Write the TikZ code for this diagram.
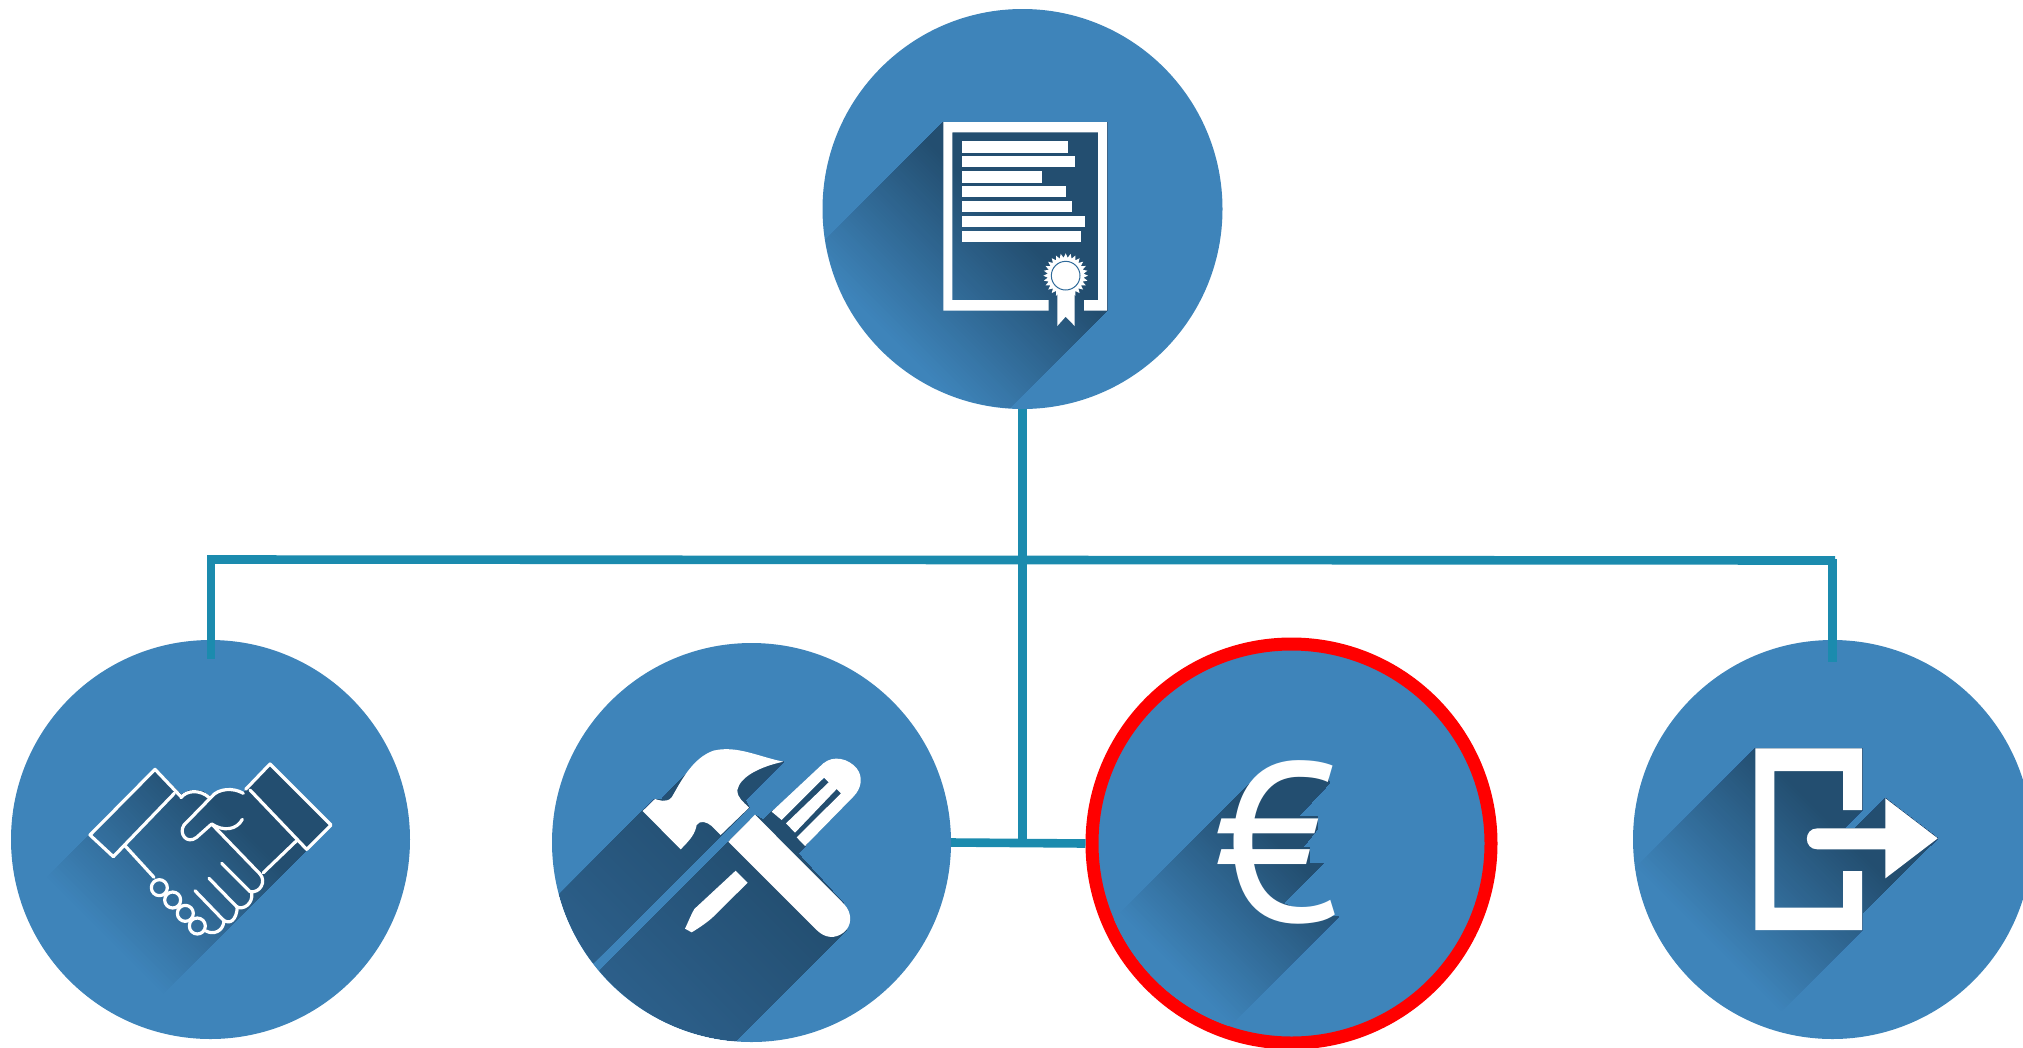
\documentclass[tikz,border=0pt]{standalone}
\usepackage{fontspec}
\newfontfamily\eurofont{PT Sans}
\definecolor{iconblue}{HTML}{3E84BA}
\definecolor{icondark}{HTML}{234E70}
\definecolor{toolfar}{HTML}{2C5F8A}
\definecolor{linkteal}{HTML}{1B8BAE}
\definecolor{sealring}{HTML}{2F6A9A}
\tikzset{
  izoom/.style 2 args={shift={(#1,#2)},x=0.33333pt,y=-0.33333pt},
  disc/.style={circle,inner sep=0pt,outer sep=0pt,fill=iconblue,minimum size=399pt},
  link/.style={draw=linkteal,line width=8.6pt,line cap=butt},
  iconfill/.style={fill=white},
  handline/.style={draw=white,line width=3.2pt,line join=round,line cap=round}
}
% cx cy r u0 u1 farcolour path
\newcommand{\gradfill}[7]{%
  \begin{scope}
    \clip (#1,#2) circle (#3);
    \clip #7;
    \begin{scope}[shift={(#1,#2)},x={(-0.7071pt,-0.7071pt)},y={(0.7071pt,-0.7071pt)}]
      \fill[#6] (-1000,-1000)--(1000,-1000)--(1000,1000)--(-1000,1000)--cycle;
      \foreach \i in {60,59,...,0} {
        \pgfmathsetmacro\pct{100*\i/60}
        \pgfmathsetmacro\uu{#4+(#5-#4)*\i/60}
        \fill[#6!\pct!icondark] (-1000,-1000)--(\uu,-1000)--(\uu,1000)--(-1000,1000)--cycle;
      }
    \end{scope}
  \end{scope}
}
\begin{document}
\begin{tikzpicture}[x=1pt,y=-1pt]
\useasboundingbox (0,0) rectangle (2023,1047);
\clip (0,0) rectangle (2023,1047);
% discs
\node[disc,minimum size=400pt] (root) at (1022.5,209) {};
\node[disc] (hand) at (210.5,839.5) {};
\node[disc] (tools) at (751.5,842.5) {};
\node[disc,draw=red,line width=13pt,outer sep=6.5pt] (euro) at (1291.5,843.5) {};
\node[disc] (exit) at (1832.5,839.5) {};
% shadows
\gradfill{1022.5}{209}{199}{20}{185}{iconblue}{[izoom={810}{0}] (400,366)--(891,366)--(891,932)--(-309,2132)--(-800,1566)--cycle}
\gradfill{210.5}{839.5}{199}{-30}{145}{iconblue}{[izoom={0}{630}] (270,612)--(465,415)--(545,495) .. controls (565,475) and (605,475) .. (630,500) .. controls (660,470) and (700,470) .. (730,490)--(810,402)--(993,585)--(915,665)--(-285,1865)--(-930,1812)--cycle}
\gradfill{751.5}{842.5}{199}{0}{200}{toolfar}{[izoom={630}{740}] (38,213)--(75,177)--(95,178)--(165,105)--(460,65)--(345,180)--(357,203)--(-943,1503)--(-1262,1513)--cycle}
\gradfill{751.5}{842.5}{199}{0}{200}{toolfar}{[izoom={630}{740}] (375,225)--(400,240)--(425,215)--(596,110)--(640,150)--(525,318)--(503,340)--(640,490)--(650,570)--(630,590)--(-670,1890)--(-925,1525)--cycle}
\gradfill{1291.5}{843.5}{193}{10}{172}{iconblue}{[izoom={1080}{630}] (505,465)--(600,410)--(740,420)--(748,460)--(655,560)--(712,560)--(712,598)--(668,652)--(688,652)--(688,701)--(729,701)--(610,820)--(700,860)--(775,860)--(-425,2060)--(-695,1665)--cycle}
\gradfill{1832.5}{839.5}{199}{-10}{160}{iconblue}{[izoom={1620}{630}] (406,355)--(726,355)--(726,540)--(672,595)--(705,595)--(796,505)--(953,625)--(727,850)--(726,900)--(-474,2100)--(-794,1555)--cycle}
% document icon
\begin{scope}[izoom={810}{0}]
  \fill[iconfill] (400,366)--(891,366)--(891,932)--(822,932)--(822,900)--(864,900)--(864,397)--(427,397)--(427,900)--(716,900)--(716,932)--(400,932)--cycle;
  \fill[iconfill] (455,424) rectangle (773,458);
  \fill[iconfill] (455,469) rectangle (796,502);
  \fill[iconfill] (455,514) rectangle (697,548);
  \fill[iconfill] (455,559) rectangle (767,592);
  \fill[iconfill] (455,604) rectangle (785,637);
  \fill[iconfill] (455,649) rectangle (825,682);
  \fill[iconfill] (455,694) rectangle (812,727);
  \fill[iconfill] (742,870)--(794,870)--(794,978)--(767,950)--(742,978)--cycle;
  \fill[iconfill] plot[samples=57,domain=0:56] ({767+(60.5+6.5*cos(180*\x))*cos(\x*6.42857)},{827+(60.5+6.5*cos(180*\x))*sin(\x*6.42857)}) -- cycle;
  \draw[sealring,line width=1pt] (767,827) circle (43);
\end{scope}
% handshake icon
\begin{scope}[izoom={80}{750}]
  \draw[handline] (303,140)--(225,58)--(30,255)--(100,320)--(283,130);
  \draw[handline] (303,143) .. controls (320,120) and (360,118) .. (388,143);
  \draw[handline] (133,285)--(222,382);
  \foreach \c in {(238,413),(278,450),(316,490),(352,528)} { \draw[handline] \c circle (24); }
  \draw[handline] (497,118)--(570,42)--(753,225)--(680,298)--(510,120);
  \draw[handline] (490,130) .. controls (460,112) and (415,115) .. (395,140)--(312,225) .. controls (295,250) and (320,285) .. (350,262)--(395,222)--(540,372) .. controls (560,395) and (540,430) .. (510,425);
  \draw[handline] (515,430) .. controls (520,460) and (490,482) .. (470,470);
  \draw[handline] (472,470) .. controls (470,510) and (450,525) .. (430,510);
  \draw[handline] (432,512) .. controls (430,545) and (400,555) .. (378,543);
  \draw[handline] (425,340)--(510,425);
  \draw[handline] (387,385)--(470,470);
  \draw[handline] (345,422)--(430,510);
  \draw[handline] (395,222) .. controls (430,245) and (470,240) .. (487,208);
  \draw[handline] (550,368)--(652,270);
\end{scope}
% tools icon
\begin{scope}[izoom={630}{740}]
  \fill[iconfill] (38,213)--(75,177) .. controls (85,180) and (110,190) .. (125,172) .. controls (150,130) and (185,55) .. (250,32) .. controls (320,15) and (385,50) .. (460,65) .. controls (390,80) and (330,110) .. (322,150) .. controls (322,175) and (340,185) .. (357,203)--(272,285)--(245,258) .. controls (230,245) and (210,240) .. (200,255) .. controls (195,280) and (185,295) .. (152,328)--cycle;
  \fill[iconfill] (375,224)--(640,490) .. controls (670,520) and (665,560) .. (640,578) .. controls (615,597) and (585,595) .. (560,570)--(295,305)--cycle;
  \fill[iconfill] (425,215)--(580,70) .. controls (610,45) and (655,55) .. (680,85) .. controls (700,110) and (695,145) .. (670,170)--(525,318)--(500,292)--(633,160)--(620,147)--(495,278)--(468,250)--(596,127)--(582,113)--(455,240)--cycle;
  \fill[iconfill] (317,392)--(353,428)--(250,530) .. controls (235,545) and (205,565) .. (185,577)--(165,566) .. controls (175,545) and (185,520) .. (193,507)--cycle;
\end{scope}
% euro glyph
\node[text=white,inner sep=0pt,outer sep=0pt] (eurosign) at (1277.5,842) {\fontsize{226}{226}\eurofont €};
% exit icon
\begin{scope}[izoom={1620}{630}]
  \fill[iconfill] (406,355)--(726,355)--(726,540)--(669,540)--(669,423)--(463,423)--(463,833)--(669,833)--(669,723)--(726,723)--(726,900)--(406,900)--cycle;
  \fill[iconfill] (592,595)--(796,595)--(796,505)--(953,625)--(796,745)--(796,658)--(592,658) .. controls (550,658) and (550,595) .. (592,595)--cycle;
\end{scope}
% connectors
\coordinate (junctionTop) at (1022.5,560);
\coordinate (junctionLow) at (1022.5,843);
\coordinate (busLeft) at (211,559.5);
\coordinate (busRight) at (1835,560.5);
\coordinate (dropLeftTop) at (211,555);
\coordinate (dropLeftEnd) at (211,659);
\coordinate (dropRightTop) at (1832.5,559);
\coordinate (dropRightEnd) at (1832.5,662);
\draw[link] (root.south) -- (junctionTop) -- (junctionLow);
\draw[link] (busLeft) -- (busRight);
\draw[link] (dropLeftTop) -- (dropLeftEnd);
\draw[link] (dropRightTop) -- (dropRightEnd);
\draw[link] (tools.east) -- (euro.west);
\end{tikzpicture}
\end{document}
